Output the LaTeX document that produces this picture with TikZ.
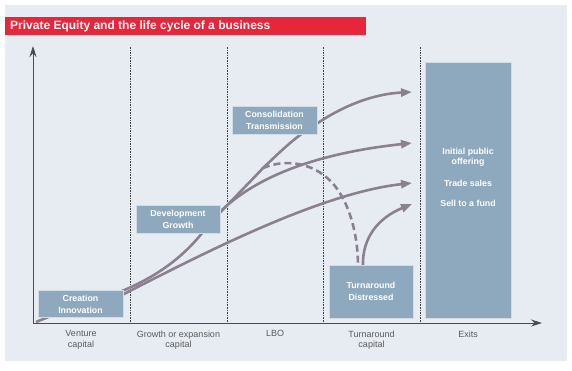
\documentclass[tikz,border=0pt]{standalone}
\usepackage{fontspec}
\setmainfont{Liberation Sans}
\usetikzlibrary{arrows.meta}
\definecolor{bgc}{HTML}{E7ECF3}
\definecolor{redc}{HTML}{E6263A}
\definecolor{boxc}{HTML}{8EA8BD}
\definecolor{curvec}{HTML}{8B8090}
\definecolor{labc}{HTML}{5A5A5A}
\begin{document}
\begin{tikzpicture}[x=1pt,y=-1pt,
  stagebox/.style={fill=boxc,draw=white!60!boxc,line width=0.8pt,inner sep=0pt,
    text=white,font=\fontsize{8.8}{11.8}\selectfont\bfseries,align=center},
  axlab/.style={text=labc,font=\fontsize{9}{10.5}\selectfont,align=center,anchor=north},
  divider/.style={draw=black!75,line width=0.8pt,dash pattern=on 1.6pt off 1pt},
  flow/.style={draw=curvec,line width=2.6pt,-{Triangle[length=11pt,width=8pt]}},
  flowplain/.style={draw=curvec,line width=2.6pt},
  flowdash/.style={draw=curvec,line width=2.6pt,dash pattern=on 7pt off 4pt},
  axis/.style={draw=black!70,line width=1pt,-{Stealth[length=11pt,width=7pt]}}]
\useasboundingbox (0,0) rectangle (572,370);
\fill[white] (0,0) rectangle (572,370);
\fill[bgc] (5,5) rectangle (567,361);
% title
\fill[redc] (5,17) rectangle (366,35);
\node[anchor=west,text=white,font=\fontsize{12}{12}\selectfont\bfseries,inner sep=0pt] (title) at (10,26) {Private Equity and the life cycle of a business};
% dividers
\foreach \x/\n in {130/d1,227/d2,323/d3,420/d4}{
  \coordinate (\n top) at (\x,47);
  \coordinate (\n bot) at (\x,323);
  \draw[divider] (\n top) -- (\n bot);
}
% axes
\coordinate (origin) at (33,323);
\coordinate (ytip) at (33,46);
\coordinate (xtip) at (542,323);
\draw[axis] (origin) -- (ytip);
\draw[axis] (origin) -- (xtip);
% arrow ends
\coordinate (e1) at (412,92);
\coordinate (e2) at (412,143);
\coordinate (e3) at (412,183);
\coordinate (e4) at (412,204);
\coordinate (junc) at (263,168);
% boxes (positions)
\coordinate (pc) at (80.5,304);
\coordinate (pd) at (178,219);
\coordinate (pk) at (274.5,120);
\coordinate (pt) at (371,291.5);
% curves
\draw[flowplain] (36,322) -- (pc);
\draw[flowplain] (122,291) .. controls (158,276) and (185,256) .. (206,228);
\draw[flow] (122,295) .. controls (200,255) and (320,193) .. (e3);
\draw[flowplain] (214,219) .. controls (232,200) and (250,182) .. (junc) .. controls (280,152) and (295,137) .. (312,127);
\draw[flow] (312,127) .. controls (340,107) and (372,94) .. (e1);
\draw[flow] (216,216) .. controls (245,185) and (300,155) .. (e2);
\draw[flowdash] (junc) .. controls (290,157) and (318,165) .. (335,186) .. controls (352,208) and (358,240) .. (358,266);
\draw[flow] (363,266) .. controls (362,238) and (378,218) .. (e4);
% boxes
\node[stagebox,minimum width=85pt,minimum height=27pt] (creation) at (pc) {Creation\\Innovation};
\node[stagebox,minimum width=84pt,minimum height=28pt] (develop) at (pd) {Development\\Growth};
\node[stagebox,minimum width=85pt,minimum height=28pt] (consol) at (pk) {Consolidation\\Transmission};
\node[stagebox,minimum width=84pt,minimum height=53pt] (turn) at (pt) {Turnaround\\Distressed};
\node[stagebox,minimum width=86pt,minimum height=256pt] (exits) at (468,190) {};
\node[text=white,font=\fontsize{8.8}{10}\selectfont\bfseries,align=center,anchor=north,inner sep=0pt] (exitstext) at (468,147.5)
  {Initial public\\offering\\[12pt]Trade sales\\[10.5pt]Sell to a fund};
% axis labels
\node[axlab] (l1) at (81,327) {Venture\\capital};
\node[axlab] (l2) at (178.5,327) {Growth or expansion\\capital};
\node[axlab] (l3) at (275,327) {LBO};
\node[axlab] (l4) at (371.5,327) {Turnaround\\capital};
\node[axlab] (l5) at (468,327) {Exits};
\end{tikzpicture}
\end{document}
